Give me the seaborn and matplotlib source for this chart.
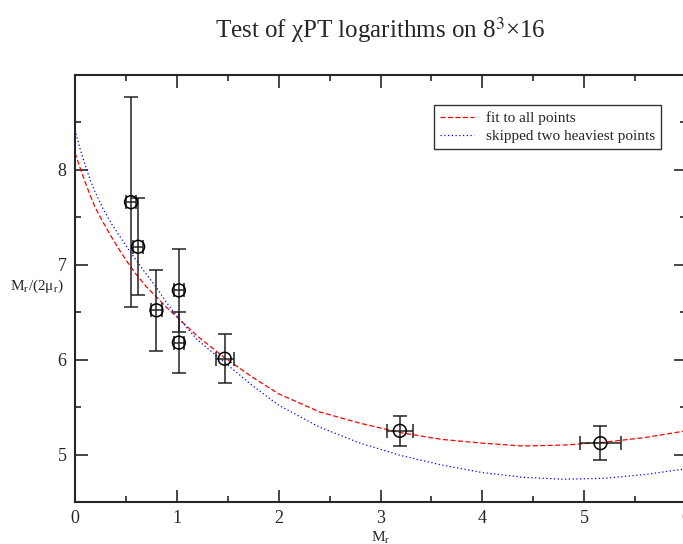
import matplotlib
matplotlib.use('agg')

import numpy as np
import pandas as pd
import matplotlib.pyplot as plt
import seaborn as sns
from matplotlib.ticker import MultipleLocator, FixedLocator

# measured points: M_r and M_r/(2 mu_r) with errors
m_r = [0.55, 0.62, 0.80, 1.02, 1.02, 1.47, 3.19, 5.16]
ratio = [7.66, 7.19, 6.52, 6.73, 6.18, 6.01, 5.25, 5.12]
ratio_err = [1.11, 0.51, 0.43, 0.44, 0.32, 0.26, 0.16, 0.18]
m_r_err = [0.05, 0.05, 0.05, 0.05, 0.05, 0.09, 0.13, 0.20]

# fit curves
fit_all_x = [0.0, 0.05, 0.1, 0.15, 0.2, 0.28, 0.36, 0.44, 0.52, 0.6, 0.7, 0.8, 0.9, 1.0,
             1.2, 1.47, 1.75, 2.0, 2.4, 2.8, 3.2, 3.6, 4.0, 4.4, 4.8, 5.2, 5.6, 6.0]
fit_all_y = [8.18, 8.02, 7.87, 7.73, 7.60, 7.44, 7.29, 7.15, 7.02, 6.90, 6.77, 6.66, 6.55, 6.45,
             6.25, 6.02, 5.81, 5.64, 5.45, 5.33, 5.23, 5.16, 5.12, 5.09, 5.10, 5.13, 5.18, 5.25]
fit_skip_x = [0.0, 0.05, 0.1, 0.15, 0.2, 0.28, 0.36, 0.44, 0.52, 0.6, 0.7, 0.8, 0.9, 1.0,
              1.2, 1.47, 1.75, 2.0, 2.4, 2.8, 3.2, 3.6, 4.0, 4.4, 4.8, 5.2, 5.6, 6.0]
fit_skip_y = [8.42, 8.22, 8.05, 7.89, 7.76, 7.58, 7.43, 7.30, 7.17, 7.05, 6.90, 6.76, 6.60, 6.46,
              6.21, 5.97, 5.72, 5.52, 5.29, 5.12, 4.99, 4.89, 4.81, 4.76, 4.74, 4.75, 4.79, 4.85]

pts = pd.DataFrame({'m': m_r, 'r': ratio})
fit_all = pd.DataFrame({'m': fit_all_x, 'r': fit_all_y})
fit_skip = pd.DataFrame({'m': fit_skip_x, 'r': fit_skip_y})

sns.set_style('ticks')
plt.rcParams['font.family'] = ['Liberation Serif', 'DejaVu Serif']
plt.rcParams['mathtext.fontset'] = 'stix'

fig = plt.figure(figsize=(6.83, 5.44), dpi=100)
ax = fig.add_axes([75/683, 1-502/544, 611/683, 427/544])

sns.lineplot(data=fit_all, x='m', y='r', ax=ax, color='#ff0000', lw=0.9,
             linestyle=(0, (4, 2)), sort=False, label='fit to all points')
sns.lineplot(data=fit_skip, x='m', y='r', ax=ax, color='#0000ff', lw=0.9,
             linestyle=(0, (1, 2)), sort=False, label='skipped two heaviest points')

ax.errorbar(m_r, ratio, yerr=ratio_err, xerr=m_r_err, fmt='none', ecolor='#222222',
            elinewidth=1.1, capsize=5, capthick=1.1, zorder=3)
sns.scatterplot(data=pts, x='m', y='r', ax=ax, marker='o', s=85, facecolor='none',
                edgecolor='black', linewidth=1.1, zorder=4, legend=False)

ax.set_xlim(0, 6)
ax.set_ylim(4.5, 9)
ax.xaxis.set_major_locator(MultipleLocator(1))
ax.xaxis.set_minor_locator(MultipleLocator(0.5))
ax.yaxis.set_major_locator(FixedLocator([5, 6, 7, 8]))
ax.yaxis.set_minor_locator(FixedLocator([5.5, 6.5, 7.5, 8.5]))
ax.tick_params(which='both', direction='in', top=True, right=True, labelsize=13, pad=6)
ax.tick_params(which='major', length=9, width=1.2)
ax.tick_params(which='minor', length=4.5, width=1.2)
for sp in ax.spines.values():
    sp.set_linewidth(1.5)

ax.set_xlabel('M$_\\mathrm{r}$', fontsize=11, labelpad=2)
ax.set_ylabel('M$_\\mathrm{r}$/(2μ$_\\mathrm{r}$)', fontsize=11, rotation=0, va='center')
ax.yaxis.set_label_coords(-0.062, 0.505)
fig.text(0.557, 0.945, 'Test of χPT logarithms on 8$^3$×16', ha='center',
         va='center', fontsize=18)

leg = ax.legend(loc='upper right', bbox_to_anchor=(0.967, 0.94), fontsize=11,
                frameon=True, fancybox=False, edgecolor='black', handlelength=2.2,
                borderaxespad=0.3, labelspacing=0.3)
leg.get_frame().set_linewidth(1.0)

fig.savefig('out.png', dpi=100)
